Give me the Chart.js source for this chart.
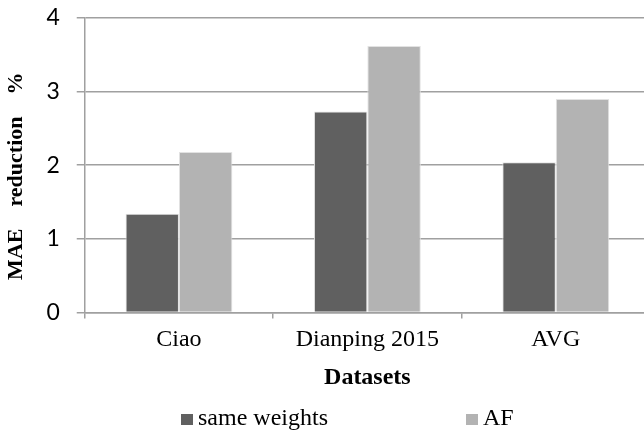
<!DOCTYPE html>
<html>
<head>
<meta charset="utf-8">
<script src="https://cdn.jsdelivr.net/npm/chart.js@4/dist/chart.umd.min.js"></script>
<style>
  html, body { margin: 0; padding: 0; background: #fff; overflow: hidden; }
  #wrap { width: 650px; height: 432px; }
</style>
</head>
<body>
<div id="wrap"><canvas id="grafico"></canvas></div>
<script>
// ---- DATOS ----
const categorias = ["Ciao", "Dianping 2015", "AVG"];
const sameWeights = [1.34, 2.73, 2.04];
const af = [2.18, 3.62, 2.90];
const nombresSeries = ["same weights", "AF"];
const ticksY = [0, 1, 2, 3, 4];
const tituloX = "Datasets";
const tituloY = "MAE    reduction    %    ";

// ---- LEYENDA (dibujada a mano, items muy separados) ----
const leyenda = {
  id: "leyenda",
  afterDraw(chart) {
    const c = chart.ctx;
    const xs = [181, 466];
    const y = 414;
    c.save();
    c.font = "24px 'Liberation Serif'";
    c.textBaseline = "alphabetic";
    chart.data.datasets.forEach((ds, i) => {
      c.fillStyle = ds.backgroundColor;
      c.fillRect(xs[i], y, 12, 11);
      c.fillStyle = "#000";
      c.fillText(ds.label, xs[i] + 17, y + 11);
    });
    c.restore();
  }
};

// ---- CHART.JS CONFIG ----
const ctx = document.getElementById("grafico").getContext("2d");
const grafico = new Chart(ctx, {
  type: "bar",
  data: {
    labels: categorias,
    datasets: [
      {
        label: nombresSeries[0],
        data: sameWeights,
        backgroundColor: "#606060",
        borderColor: "#e2e2e2",
        borderWidth: 1
      },
      {
        label: nombresSeries[1],
        data: af,
        backgroundColor: "#b3b3b3",
        borderColor: "#e2e2e2",
        borderWidth: 1
      }
    ]
  },
  options: {
    responsive: true,
    maintainAspectRatio: false,
    animation: false,
    datasets: { bar: { categoryPercentage: 0.567, barPercentage: 1 } },
    layout: { padding: { top: 0, right: 0, bottom: 40, left: 0 } },
    plugins: {
      legend: { display: false },
      tooltip: { enabled: false }
    },
    scales: {
      x: {
        grid: { drawOnChartArea: false, drawTicks: true, tickLength: 6, color: "#a0a0a0", lineWidth: 1.5 },
        border: { color: "#a0a0a0", width: 1.5 },
        ticks: { color: "#000", padding: 7, font: { family: "'Liberation Serif'", size: 24 } },
        title: {
          display: true,
          text: tituloX,
          color: "#000",
          font: { family: "'Liberation Serif'", size: 24, weight: "bold" },
          padding: { top: 2, bottom: 0 }
        }
      },
      y: {
        min: 0,
        max: 4,
        afterBuildTicks: (axis) => { axis.ticks = ticksY.map(v => ({ value: v })); },
        afterFit: (axis) => { axis.paddingTop = 18; },
        grid: { color: "#a0a0a0", lineWidth: 1.5, tickLength: 8 },
        border: { color: "#a0a0a0", width: 1.5 },
        ticks: { color: "#000", padding: 17, font: { family: "Lato", size: 23 } },
        title: {
          display: true,
          text: tituloY,
          color: "#000",
          font: { family: "'Liberation Serif'", size: 22, weight: "bold" },
          padding: { top: 3, bottom: 0 }
        }
      }
    }
  },
  plugins: [leyenda]
});
</script>
</body>
</html>
